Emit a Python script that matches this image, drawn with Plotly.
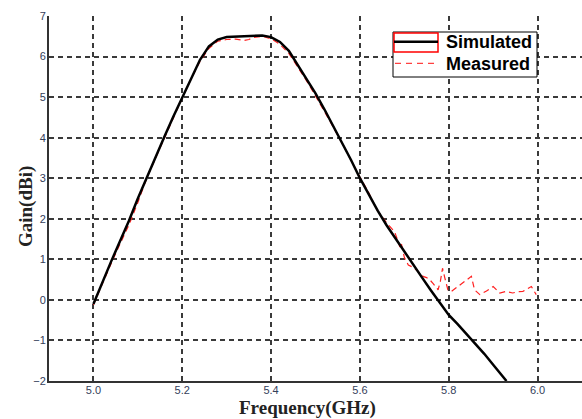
import plotly.graph_objects as go

# Simulated gain
sim_freq = [5.00, 5.02, 5.04, 5.06, 5.08, 5.10, 5.12, 5.14, 5.16, 5.18, 5.20, 5.22, 5.24, 5.26,
            5.28, 5.30, 5.32, 5.34, 5.36, 5.38, 5.40, 5.42, 5.44, 5.46, 5.48, 5.50, 5.52, 5.54,
            5.56, 5.58, 5.60, 5.62, 5.64, 5.66, 5.68, 5.70, 5.72, 5.74, 5.76, 5.78, 5.80, 5.82,
            5.84, 5.86, 5.88, 5.90, 5.92, 5.93]
sim_gain = [-0.10, 0.45, 0.95, 1.45, 1.95, 2.50, 3.02, 3.52, 4.03, 4.52, 5.00, 5.48, 5.92, 6.25,
            6.42, 6.48, 6.49, 6.51, 6.52, 6.52, 6.48, 6.36, 6.14, 5.80, 5.45, 5.09, 4.70, 4.29,
            3.88, 3.45, 3.00, 2.59, 2.20, 1.84, 1.51, 1.19, 0.87, 0.55, 0.23, -0.08, -0.37, -0.60,
            -0.84, -1.08, -1.33, -1.60, -1.86, -2.00]

# Measured gain
meas_freq = [5.00, 5.02, 5.04, 5.06, 5.08, 5.10, 5.12, 5.14, 5.16, 5.18, 5.20, 5.22, 5.24, 5.26,
             5.28, 5.30, 5.32, 5.34, 5.35, 5.36, 5.38, 5.40, 5.42, 5.44, 5.46, 5.48, 5.50, 5.52,
             5.54, 5.56, 5.58, 5.60, 5.62, 5.637, 5.66, 5.678, 5.686, 5.690, 5.693, 5.70, 5.709,
             5.72, 5.731, 5.742, 5.75, 5.757, 5.765, 5.776, 5.781, 5.786, 5.791, 5.798, 5.806,
             5.83, 5.851, 5.858, 5.87, 5.885, 5.90, 5.915, 5.929, 5.944, 5.955, 5.967, 5.986, 5.997]
meas_gain = [-0.12, 0.40, 0.90, 1.38, 1.85, 2.40, 3.00, 3.50, 4.00, 4.50, 4.98, 5.45, 5.88, 6.20,
             6.38, 6.42, 6.43, 6.40, 6.42, 6.47, 6.50, 6.44, 6.30, 6.08, 5.75, 5.40, 5.03, 4.66,
             4.26, 3.86, 3.44, 3.03, 2.64, 2.24, 1.90, 1.68, 1.44, 1.30, 1.40, 1.05, 0.86,
             0.80, 0.70, 0.58, 0.55, 0.50, 0.40, 0.25, 0.45, 0.78, 0.55, 0.25, 0.21,
             0.40, 0.58, 0.25, 0.13, 0.22, 0.33, 0.17, 0.21, 0.17, 0.20, 0.21, 0.33, 0.13]

x_ticks = [5.0, 5.2, 5.4, 5.6, 5.8, 6.0]
x_ticklabels = ["5.0", "5.2", "5.4", "5.6", "5.8", "6.0"]
y_ticks = [-2, -1, 0, 1, 2, 3, 4, 5, 6, 7]
legend_labels = ["Simulated", "Measured"]

fig = go.Figure()
fig.add_trace(go.Scatter(x=meas_freq, y=meas_gain, mode="lines", name="Measured",
                         line=dict(color="#ff2020", width=1.2, dash="6px,4px"), showlegend=False))
fig.add_trace(go.Scatter(x=sim_freq, y=sim_gain, mode="lines", name="Simulated",
                         line=dict(color="black", width=2.5), showlegend=False))

W, H = 582, 419
L, R, T, B = 49, 0, 16, 38
pw, ph = W - L - R, H - T - B

def px(xp):
    return (xp - L) / pw

def py(yp):
    return 1 - (yp - T) / ph

tickfont = dict(family="Liberation Sans, Arial", size=11, color="#34405a")
grid = dict(showgrid=True, gridcolor="#3a3a3a", gridwidth=1.5, griddash="5px,4px")

legfont = dict(family="Liberation Sans, Arial", size=18, color="black", weight="bold")

fig.update_layout(
    width=W, height=H,
    margin=dict(l=L, r=R, t=T, b=B),
    paper_bgcolor="white", plot_bgcolor="white",
    xaxis=dict(range=[4.9, 6.1], tickvals=x_ticks, ticktext=x_ticklabels, tickfont=tickfont,
               ticklabelstandoff=-2,
               showline=True, linecolor="#333333", linewidth=2, ticks="", zeroline=False, **grid),
    yaxis=dict(range=[-2, 7], tickvals=y_ticks, tickfont=tickfont, ticklabelstandoff=-1,
               showline=True, linecolor="#333333", linewidth=2, ticks="", zeroline=False, **grid),
    shapes=[
        # legend box
        dict(type="rect", xref="paper", yref="paper", x0=px(393), x1=px(537), y0=py(77), y1=py(32),
             fillcolor="white", line=dict(color="black", width=1), layer="above"),
        dict(type="rect", xref="paper", yref="paper", x0=px(394), x1=px(438), y0=py(52), y1=py(33),
             fillcolor="rgba(0,0,0,0)", line=dict(color="#ff0000", width=1.5), layer="above"),
        dict(type="line", xref="paper", yref="paper", x0=px(394), x1=px(438), y0=py(41.7), y1=py(41.7),
             line=dict(color="black", width=2.5), layer="above"),
        dict(type="line", xref="paper", yref="paper", x0=px(395), x1=px(438), y0=py(63.3), y1=py(63.3),
             line=dict(color="#ff4040", width=1.2, dash="6px,5px"), layer="above"),
    ],
    annotations=[
        dict(text="<b>" + legend_labels[0] + "</b>", xref="paper", yref="paper", x=px(444), y=py(42),
             xanchor="left", yanchor="middle", showarrow=False, font=legfont),
        dict(text="<b>" + legend_labels[1] + "</b>", xref="paper", yref="paper", x=px(444), y=py(64),
             xanchor="left", yanchor="middle", showarrow=False, font=legfont),
        dict(text="<b>Frequency(GHz)</b>", xref="paper", yref="paper", x=px(307), y=py(408),
             xanchor="center", yanchor="middle", showarrow=False,
             font=dict(family="Liberation Serif, Times New Roman", size=19, color="#222222")),
        dict(text="<b>Gain(dBi)</b>", xref="paper", yref="paper", x=px(26), y=py(207),
             xanchor="center", yanchor="middle", showarrow=False, textangle=-90,
             font=dict(family="Liberation Serif, Times New Roman", size=19, color="#222222")),
    ],
)

fig.write_html("out.html")
